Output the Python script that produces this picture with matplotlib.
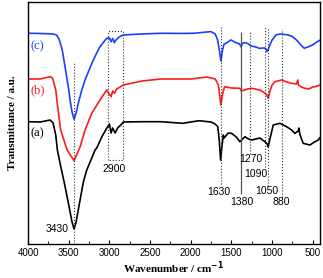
import matplotlib
matplotlib.use('Agg')
import matplotlib.pyplot as plt
from matplotlib.ticker import MultipleLocator

# FTIR spectra, transmittance in arbitrary units (offset curves)
wn_c = [4000, 3850, 3700, 3650, 3620, 3580, 3546, 3500, 3484, 3460, 3435, 3410, 3382,
        3340, 3300, 3250, 3198, 3150, 3116, 3070, 3034, 3000, 2980, 2960, 2940, 2920,
        2880, 2829, 2600, 2366, 2100, 1957, 1800, 1752, 1700, 1670, 1645, 1629, 1610,
        1590, 1567, 1506, 1445, 1400, 1383, 1360, 1322, 1290, 1260, 1200, 1158, 1097,
        1075, 1064, 1050, 1036, 1000, 953, 900, 871, 800, 748, 700, 646, 605, 560, 503,
        450, 405]
t_c = [210.7, 210.5, 210, 209, 205, 194, 177.3, 154, 144, 132, 124.7, 131, 141,
       154, 164, 174, 184, 192, 197.3, 202, 205.7, 206, 202.3, 205.5, 201.3, 204,
       207, 209, 210, 210.7, 210.5, 210.7, 212, 212.3, 210, 204, 192, 183, 194,
       200, 200.7, 204, 201.3, 200, 197.3, 201, 201.3, 200, 198, 197, 195.7, 196,
       195, 192.3, 194, 197.3, 204, 209, 210, 209.7, 209, 207.3, 204, 199, 195.7, 197, 199,
       202, 204]

wn_b = [4000, 3850, 3730, 3700, 3660, 3640, 3600, 3520, 3435, 3360, 3300, 3218, 3116,
        3034, 2980, 2960, 2940, 2910, 2829, 2600, 2366, 2000, 1800, 1700, 1660, 1645,
        1630, 1612, 1590, 1580, 1500, 1396, 1380, 1300, 1252, 1150, 1090, 1066, 1048,
        1030, 1000, 965, 883, 820, 761, 700, 685, 675, 640, 597, 550, 500, 474, 410]
t_b = [165, 165, 167.3, 166, 154, 140, 114, 94, 83.3, 97.3, 114, 130.7, 144,
       154, 147.3, 153, 150.7, 155, 159, 163, 165, 165, 167, 165, 159, 149,
       139, 149, 156, 157.3, 156, 155.7, 153, 155, 155.7, 154, 151, 149, 145.7,
       152, 159, 162.3, 164, 162, 160.7, 160, 164, 159, 157, 155.7, 155, 157, 157.3, 159]

wn_a = [4000, 3850, 3730, 3693, 3660, 3640, 3600, 3554, 3500, 3460, 3435, 3410, 3361,
        3320, 3279, 3217, 3177, 3156, 3095, 3034, 3000, 2980, 2960, 2930, 2900, 2860,
        2829, 2600, 2366, 2100, 1900, 1750, 1700, 1668, 1650, 1633, 1615, 1600, 1590,
        1540, 1498, 1440, 1396, 1334, 1290, 1252, 1150, 1088, 1060, 1048, 1030, 986,
        904, 822, 760, 720, 680, 670, 660, 618, 535, 480, 433, 405]
t_a = [122.3, 122, 124, 121, 109, 94, 78, 61, 39, 22, 15, 22, 44,
       62.3, 74, 86, 94, 96, 107, 115.7, 120, 111, 116, 111, 116, 119,
       122, 122.3, 122.3, 120.7, 123.3, 122, 120, 117.3, 104, 84, 99, 109, 106,
       111, 110.7, 107, 102.3, 107.3, 105, 104, 106, 102.3, 100, 97.3, 104, 119,
       120.7, 117.3, 114, 110.7, 113, 116, 110, 100.7, 99, 102, 104, 107]

# marked bands: position, line span (bottom, top), label position
band_pos = [3430, 1630, 1270, 1090, 1050, 880]
band_lo = [0, 60, 90, 77, 58, 47]
band_hi = [182, 217, 213, 217, 217, 215]
label_text = ['3430', '1630', '1270', '1090', '1050', '880', '1380', '2900']
label_x = [3648, 1660, 1258, 1203, 1067, 892, 1377, 2937]
label_y = [15, 51.7, 85, 70.5, 53.5, 41.7, 41.7, 75.3]

fig = plt.figure(figsize=(3.23, 2.78), dpi=100)
ax = fig.add_axes([0.087, 0.122, 0.904, 0.871])

ax.plot(wn_a, t_a, color='black', lw=1.2)
ax.plot(wn_b, t_b, color='#ff1a1a', lw=1.2)
ax.plot(wn_c, t_c, color='#1f3fff', lw=1.2)

ax.vlines(band_pos, band_lo, band_hi, colors='#333333', linestyles=':', lw=0.8)
ax.vlines([1383], [50], [212], colors='#555555', lw=0.9)
# dotted box round the C-H stretch region
ax.plot([3014, 3014, 2837, 2837, 3014], [84, 213, 213, 84, 84],
        ls=':', color='#333333', lw=0.8)

for s, x, y in zip(label_text, label_x, label_y):
    ax.text(x, y, s, ha='center', va='center', fontsize=7.5, family='Liberation Sans')

for s, y, c in [('(c)', 198, '#1f3fff'), ('(b)', 154, '#ff1a1a'), ('(a)', 111, 'black')]:
    ax.text(3975, y, s, ha='left', va='center', color=c, fontsize=9, family='Liberation Serif')

ax.set_xlim(4000, 410)
ax.set_ylim(0, 242)
ax.xaxis.set_major_locator(MultipleLocator(500))
ax.xaxis.set_minor_locator(MultipleLocator(250))
ax.tick_params(axis='x', which='both', direction='in', labelsize=7, pad=3)
ax.tick_params(axis='x', which='major', length=3)
ax.tick_params(axis='x', which='minor', length=2)
for lab in ax.get_xticklabels():
    lab.set_family('Liberation Sans')
ax.set_yticks([])

ax.set_xlabel('Wavenumber / cm$^{\\mathbf{-1}}$', fontsize=8, fontweight='bold',
              family='Liberation Serif', labelpad=1)
ax.set_ylabel('Transmittance / a.u.', fontsize=8, fontweight='bold',
              family='Liberation Serif', labelpad=8)
for sp in ax.spines.values():
    sp.set_linewidth(1.0)

fig.savefig('out.png', dpi=100)
